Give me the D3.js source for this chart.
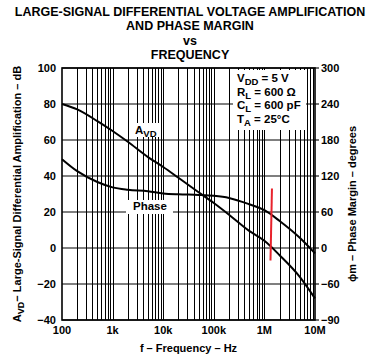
<!DOCTYPE html>
<html>
<head>
<meta charset="utf-8">
<script src="https://cdn.jsdelivr.net/npm/d3@7"></script>
<style>
  body { margin: 0; background: #fff; }
  text { font-family: "Liberation Sans", Arial, sans-serif; font-weight: bold; fill: #000; }
</style>
</head>
<body>
<div id="chart"></div>
<script>
// values
var freq  = [100, 200, 500, 1e3, 2e3, 5e3, 1e4, 2e4, 5e4, 1e5, 2e5, 5e5, 1e6, 2e6, 5e6, 1e7];
var avd   = [80, 77, 70.5, 65, 59, 50.5, 45, 39, 31, 25, 18.5, 9.5, 4, -4, -16, -28];
var phase = [148, 128, 110, 101, 97, 94.5, 91, 89.5, 88.5, 87, 83.5, 73, 63, 45, 17, -9];

var xTicks = [100, 1e3, 1e4, 1e5, 1e6, 1e7];
var xTickLabels = ["100", "1k", "10k", "100k", "1M", "10M"];
var dbTicks = [100, 80, 60, 40, 20, 0, -20, -40];
var degTicks = [300, 240, 180, 120, 60, 0, -60, -90];
var conditions = [
  {main: "V", sub: "DD", rest: " = 5 V"},
  {main: "R", sub: "L", rest: " = 600 \u03A9"},
  {main: "C", sub: "L", rest: " = 600 pF"},
  {main: "T", sub: "A", rest: " = 25\u00B0C"}
];
// red marker drawn on the original plot
var marker = [{f: 1.41e6, db: 33}, {f: 1.32e6, db: -7}];

var width = 375, height = 362;
var margin = {left: 62, right: 60, top: 68, bottom: 42};
var w = width - margin.left - margin.right,
    h = height - margin.top - margin.bottom;

var svg = d3.select("#chart").append("svg")
    .attr("width", width)
    .attr("height", height);

var x = d3.scaleLog().domain([100, 1e7]).range([0, w]);
var y = d3.scaleLinear().domain([-40, 100]).range([h, 0]);
// the phase axis is not linear at the bottom: -60 sits on the -20 dB line, -90 on the -40 dB line
var yDeg = d3.scaleLinear().domain([-90, -60, 300]).range([y(-40), y(-20), y(100)]);

var g = svg.append("g")
    .attr("transform", "translate(" + margin.left + "," + margin.top + ")");

// vertical grid, every 1..9 of each decade
var minor = [];
for (var d = 100; d < 1e7; d *= 10) {
  for (var k = 1; k < 10; k++) minor.push(d * k);
}
g.selectAll(".vgrid").data(minor.slice(1))
  .enter().append("line")
    .attr("class", "vgrid")
    .attr("x1", function(v) { return Math.round(x(v)) + 0.5; })
    .attr("x2", function(v) { return Math.round(x(v)) + 0.5; })
    .attr("y1", 0).attr("y2", h)
    .style("stroke", "#000")
    .style("stroke-width", 1);

g.selectAll(".hgrid").data(dbTicks)
  .enter().append("line")
    .attr("class", "hgrid")
    .attr("x1", 0).attr("x2", w)
    .attr("y1", function(v) { return y(v); })
    .attr("y2", function(v) { return y(v); })
    .style("stroke", "#000")
    .style("stroke-width", 1.1);

// frame
g.append("rect")
    .attr("width", w).attr("height", h)
    .style("fill", "none")
    .style("stroke", "#000")
    .style("stroke-width", 1.6);

// condition box
var box = g.append("g").attr("transform", "translate(171,2)");
box.append("rect")
    .attr("width", 73).attr("height", 60)
    .style("fill", "#fff");
box.selectAll("text").data(conditions)
  .enter().append("text")
    .attr("x", 4)
    .attr("y", function(c, i) { return 12 + i * 13.5; })
    .style("font-size", "11.5px")
    .each(function(c) {
      var t = d3.select(this);
      t.append("tspan").text(c.main);
      t.append("tspan").attr("dy", 3).style("font-size", "9.5px").text(c.sub);
      t.append("tspan").attr("dy", -3).text(c.rest);
    });

// curve labels with white backing
g.append("rect").attr("x", 71).attr("y", 55).attr("width", 28).attr("height", 14).style("fill", "#fff");
var avdLabel = g.append("text").attr("x", 73).attr("y", 66).style("font-size", "11.5px");
avdLabel.append("tspan").text("A");
avdLabel.append("tspan").attr("dy", 3).style("font-size", "9.5px").text("VD");

g.append("rect").attr("x", 64).attr("y", 132).attr("width", 47).attr("height", 14).style("fill", "#fff");
g.append("text").attr("x", 71).attr("y", 142).style("font-size", "11.5px").text("Phase");

var line = d3.line().curve(d3.curveMonotoneX);

g.append("path")
    .attr("d", line(freq.map(function(f, i) { return [x(f), y(avd[i])]; })))
    .style("fill", "none").style("stroke", "#000").style("stroke-width", 2);

g.append("path")
    .attr("d", line(freq.map(function(f, i) { return [x(f), yDeg(phase[i])]; })))
    .style("fill", "none").style("stroke", "#000").style("stroke-width", 2);

g.append("path")
    .attr("d", d3.line()(marker.map(function(m) { return [x(m.f), y(m.db)]; })))
    .style("fill", "none").style("stroke", "#e8222c").style("stroke-width", 2);

// tick labels
g.selectAll(".xl").data(xTicks)
  .enter().append("text")
    .attr("x", function(v) { return x(v); })
    .attr("y", h + 14)
    .attr("text-anchor", "middle")
    .style("font-size", "11px")
    .text(function(v, i) { return xTickLabels[i]; });

g.selectAll(".yl").data(dbTicks)
  .enter().append("text")
    .attr("x", -6)
    .attr("y", function(v) { return y(v) + 4; })
    .attr("text-anchor", "end")
    .style("font-size", "11px")
    .text(function(v) { return v < 0 ? "\u2212" + (-v) : v; });

g.selectAll(".rt").data(degTicks)
  .enter().append("line")
    .attr("x1", w).attr("x2", w + 4)
    .attr("y1", function(v) { return yDeg(v); })
    .attr("y2", function(v) { return yDeg(v); })
    .style("stroke", "#000").style("stroke-width", 1.1);

g.selectAll(".rl").data(degTicks)
  .enter().append("text")
    .attr("x", w + 6)
    .attr("y", function(v) { return yDeg(v) + 4; })
    .style("font-size", "11px")
    .text(function(v) { return v < 0 ? "\u2212" + (-v) : v; });

// axis titles
svg.append("text")
    .attr("x", margin.left + w / 2).attr("y", 352)
    .attr("text-anchor", "middle")
    .style("font-size", "11px")
    .text("f \u2013 Frequency \u2013 Hz");

var lt = svg.append("text")
    .attr("transform", "translate(21," + (margin.top + h / 2) + ") rotate(-90)")
    .attr("text-anchor", "middle")
    .style("font-size", "11px");
lt.append("tspan").text("A");
lt.append("tspan").attr("dy", 3).style("font-size", "9px").text("VD");
lt.append("tspan").attr("dy", -3).text("\u2212 Large-Signal Differential Amplification \u2013 dB");

svg.append("text")
    .attr("transform", "translate(356," + (margin.top + h / 2 + 10) + ") rotate(-90)")
    .attr("text-anchor", "middle")
    .style("font-size", "11px")
    .text("\u03D5m \u2013 Phase Margin \u2013 degrees");

// title
var title = ["LARGE-SIGNAL DIFFERENTIAL VOLTAGE AMPLIFICATION", "AND PHASE MARGIN", "vs", "FREQUENCY"];
var titleY = [16, 30, 45, 59];
svg.selectAll(".title").data(title)
  .enter().append("text")
    .attr("x", 190)
    .attr("y", function(t, i) { return titleY[i]; })
    .attr("text-anchor", "middle")
    .style("font-size", "12.5px")
    .text(function(t) { return t; });
</script>
</body>
</html>
